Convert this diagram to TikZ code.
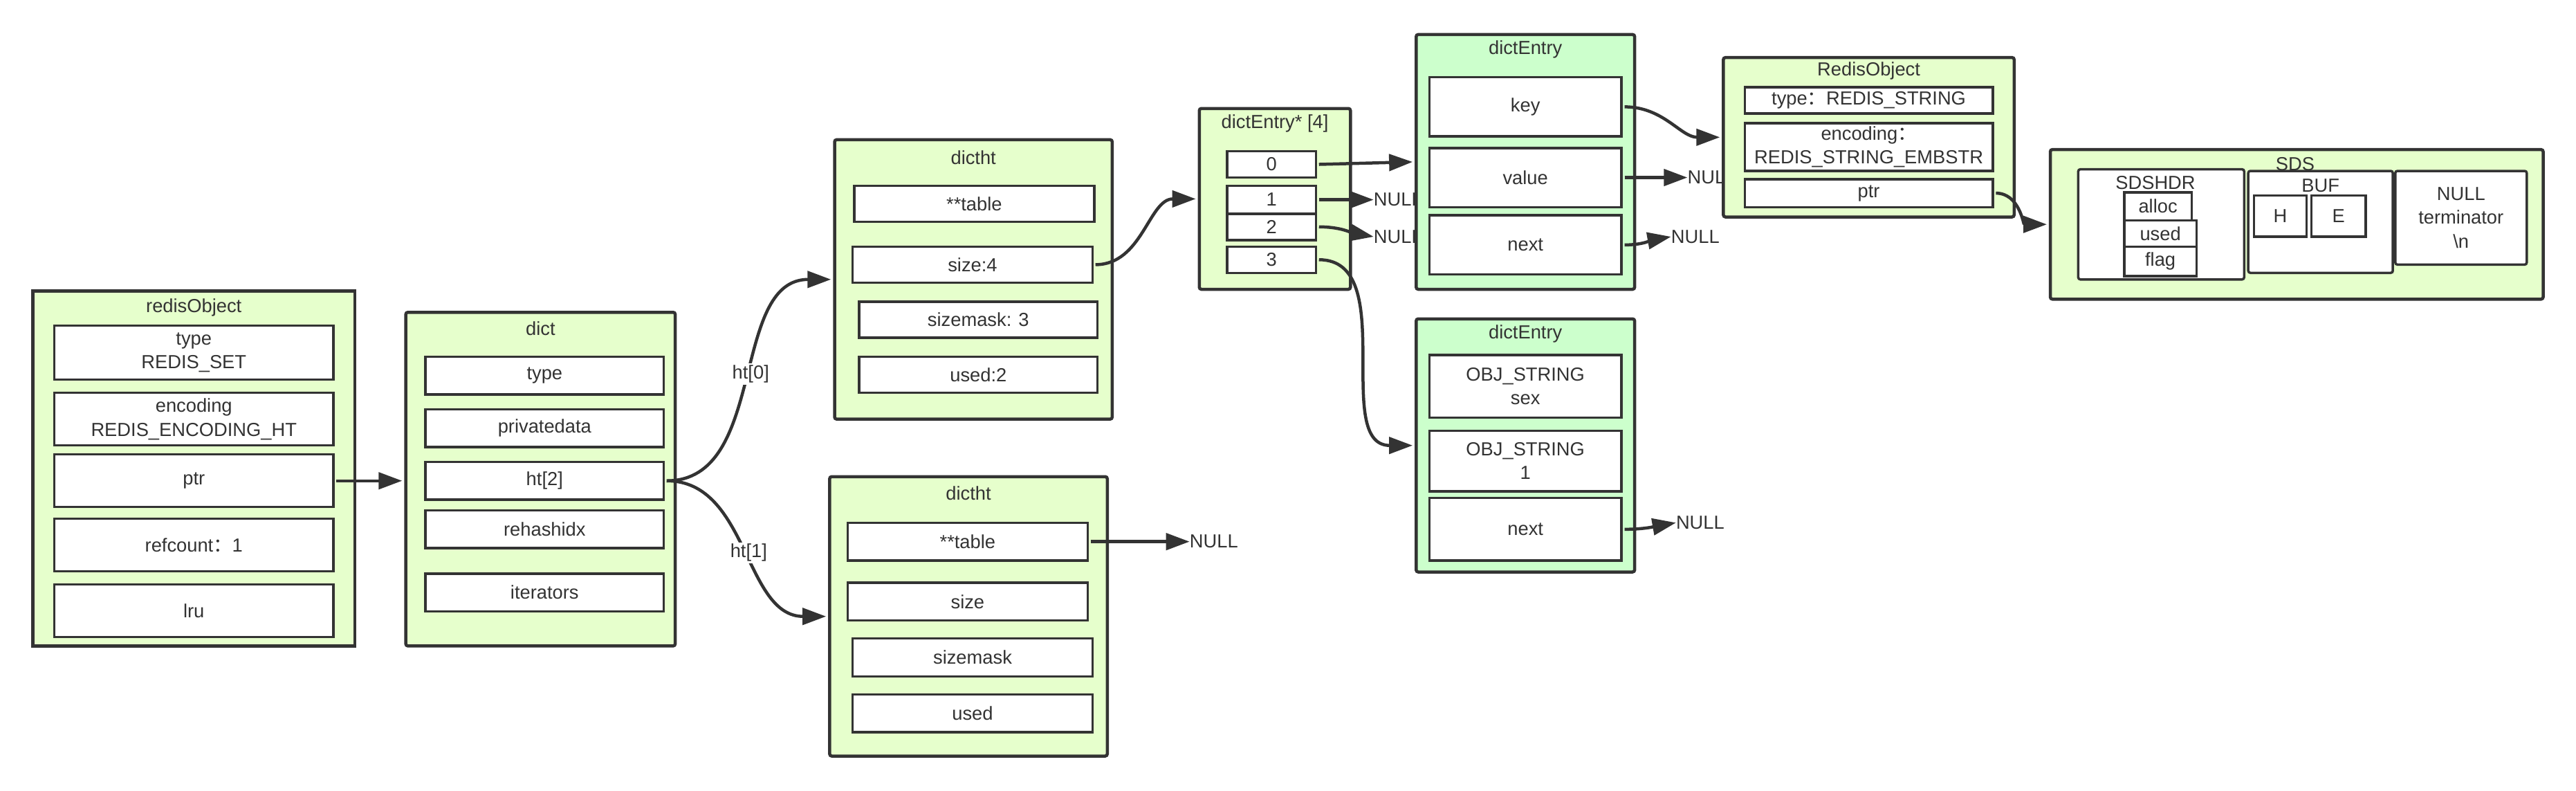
\documentclass[tikz,border=0pt]{standalone}
\usepackage{fontspec}
\setmainfont{Liberation Sans}
\newfontfamily\cjk{Noto Sans CJK SC}
\usetikzlibrary{arrows.meta,positioning}
\definecolor{palegreen}{HTML}{E6FFCC}
\definecolor{mintgreen}{HTML}{CCFFCC}
\definecolor{ink}{HTML}{333333}

\begin{document}
\begin{tikzpicture}[x=1pt, y=-1pt, scale=2.375,
    every node/.style={transform shape, text=ink, font=\fontsize{11.5}{14.5}\selectfont},
    outerbox/.style={draw=ink, line width=4.5pt, fill=palegreen, rounded corners=3pt, inner sep=0pt},
    entrybox/.style={outerbox, fill=mintgreen},
    field/.style={draw=ink, line width=3.5pt, fill=white, inner sep=0pt, align=center},
    link/.style={draw=ink, line width=4.5pt, -{Triangle[length=34pt, width=24pt]}},
    nullnode/.style={anchor=west, inner sep=0pt},
    tag/.style={fill=white, inner sep=1pt}]

    \useasboundingbox (0,0) rectangle (1568,481);

    % NULL ends
    \node[nullnode] (null0) at (724,329.5) {NULL};
    \node[nullnode] (null1) at (836,121.5) {NULL};
    \node[nullnode] (null2) at (836,144) {NULL};
    \node[nullnode] (null3) at (1027,108) {NULL};
    \node[nullnode] (null4) at (1017,144) {NULL};
    \node[nullnode] (null5) at (1020,318) {NULL};

    % redisObject
    \node[outerbox, sharp corners, minimum width=196pt, minimum height=216pt] (robj) at (118,285) {};
    \node (robj-t) at (118,187) {redisObject};
    \node[field, minimum width=170pt, minimum height=33pt] (otype) at (118,214.5) {type\\REDIS\_SET};
    \node[field, minimum width=170pt, minimum height=32pt] (oenc) at (118,255) {encoding\\REDIS\_ENCODING\_HT};
    \node[field, minimum width=170pt, minimum height=32pt] (optr) at (118,292.5) {ptr};
    \node[field, minimum width=170pt, minimum height=32pt] (oref) at (118,331.5) {refcount{\cjk ：}1};
    \node[field, minimum width=170pt, minimum height=32pt] (olru) at (118,371.5) {lru};

    % dict
    \node[outerbox, minimum width=164pt, minimum height=203pt] (dict) at (329,291.5) {};
    \node (dict-t) at (329,200) {dict};
    \node[field, minimum width=145pt, minimum height=23pt] (dtype) at (331.5,228.5) {type};
    \node[field, minimum width=145pt, minimum height=23pt] (dpriv) at (331.5,260.5) {privatedata};
    \node[field, minimum width=145pt, minimum height=23pt] (dht) at (331.5,292.5) {ht[2]};
    \node[field, minimum width=145pt, minimum height=23pt] (drehash) at (331.5,322) {rehashidx};
    \node[field, minimum width=145pt, minimum height=23pt] (diter) at (331.5,360.5) {iterators};

    % dictht ht[0]
    \node[outerbox, minimum width=169pt, minimum height=170pt] (dictht0) at (592.5,170) {};
    \node (dictht0-t) at (592.5,96) {dictht};
    \node[field, minimum width=146pt, minimum height=22pt] (t0table) at (593,124) {**table};
    \node[field, minimum width=146pt, minimum height=22pt] (t0size) at (592,161) {size:4};
    \node[field, minimum width=145pt, minimum height=22pt] (t0mask) at (595.5,194.5) {sizemask: 3};
    \node[field, minimum width=145pt, minimum height=22pt] (t0used) at (595.5,228) {used:2};

    % dictht ht[1]
    \node[outerbox, minimum width=169pt, minimum height=170pt] (dictht1) at (589.5,375) {};
    \node (dictht1-t) at (589.5,300) {dictht};
    \node[field, minimum width=146pt, minimum height=23pt] (t1table) at (589,329.5) {**table};
    \node[field, minimum width=146pt, minimum height=23pt] (t1size) at (589,366) {size};
    \node[field, minimum width=146pt, minimum height=23pt] (t1mask) at (592,400) {sizemask};
    \node[field, minimum width=146pt, minimum height=23pt] (t1used) at (592,434) {used};

    % dictEntry* [4]
    \node[outerbox, minimum width=92pt, minimum height=110pt] (arr) at (776,121) {};
    \node (arr-t) at (776,75) {dictEntry* [4]};
    \node[field, minimum width=54pt, minimum height=16pt] (c0) at (774,100) {0};
    \node[field, minimum width=54pt, minimum height=17pt] (c1) at (774,121.5) {1};
    \node[field, minimum width=54pt, minimum height=16pt] (c2) at (774,138) {2};
    \node[field, minimum width=54pt, minimum height=16pt] (c3) at (774,158) {3};

    % dictEntry
    \node[entrybox, minimum width=133pt, minimum height=155pt] (de1) at (928.5,98.5) {};
    \node (de1-t) at (928.5,30) {dictEntry};
    \node[field, minimum width=117pt, minimum height=36pt] (ekey) at (928.5,65) {key};
    \node[field, minimum width=117pt, minimum height=36pt] (eval) at (928.5,108) {value};
    \node[field, minimum width=117pt, minimum height=36pt] (enext) at (928.5,149) {next};

    \node[entrybox, minimum width=133pt, minimum height=154pt] (de2) at (928.5,271) {};
    \node (de2-t) at (928.5,203) {dictEntry};
    \node[field, minimum width=117pt, minimum height=38pt] (fkey) at (928.5,235) {OBJ\_STRING\\sex};
    \node[field, minimum width=117pt, minimum height=37pt] (fval) at (928.5,280.5) {OBJ\_STRING\\1};
    \node[field, minimum width=117pt, minimum height=38pt] (fnext) at (928.5,322) {next};

    % RedisObject
    \node[outerbox, minimum width=177pt, minimum height=97pt] (sobj) at (1137.5,83.5) {};
    \node (sobj-t) at (1137.5,43) {RedisObject};
    \node[field, minimum width=151pt, minimum height=16pt] (stype) at (1137.5,61) {type{\cjk ：}REDIS\_STRING};
    \node[field, minimum width=151pt, minimum height=29pt] (senc) at (1137.5,89.5) {encoding{\cjk ：}\\REDIS\_STRING\_EMBSTR};
    \node[field, minimum width=151pt, minimum height=17pt] (sptr) at (1137.5,117.5) {ptr};

    % SDS
    \node[outerbox, minimum width=300pt, minimum height=91pt] (sds) at (1398,136.5) {};
    \node (sds-t) at (1397,100) {SDS};
    \node[field, rounded corners=3pt, minimum width=101pt, minimum height=67pt] (hdr) at (1315.5,136.5) {};
    \node (hdr-t) at (1312,111) {SDSHDR};
    \node[field, minimum width=41pt, minimum height=17pt] (halloc) at (1313.5,125.5) {alloc};
    \node[field, minimum width=44pt, minimum height=16pt] (hused) at (1315,142) {used};
    \node[field, minimum width=44pt, minimum height=18pt] (hflag) at (1315,159) {flag};
    \node[field, rounded corners=3pt, minimum width=88pt, minimum height=62pt] (buf) at (1412.5,135) {};
    \node (buf-t) at (1412.5,113) {BUF};
    \node[field, minimum width=32pt, minimum height=25pt] (bh) at (1388,131.5) {H};
    \node[field, minimum width=33pt, minimum height=25pt] (be) at (1423.5,131.5) {E};
    \node[field, rounded corners=3pt, minimum width=80pt, minimum height=57pt] (nterm) at (1498,132.5) {NULL\\terminator\\\textbackslash n};

    % pointers
    \draw[link] (optr.east) -- (optr.east -| dict.west);
    \draw[link] (dht.east) to[out=0, in=180] node[tag, pos=0.52] (ht0) {ht[0]} (dictht0.west);
    \draw[link] (dht.east) to[out=0, in=180] node[tag, pos=0.52] (ht1) {ht[1]} (dictht1.west);
    \draw[link] (t1table.east) -- (null0.west);
    \draw[link] (t0size.east) to[out=0, in=180] (arr.west);
    \draw[link] (c0.east) -- (de1.west);
    \draw[link] (c1.east) -- (null1.west);
    \draw[link] (c2.east) to[out=0, in=170] (null2.west);
    \draw[link] (c3.east) to[out=0, in=180] (de2.west);
    \draw[link] (ekey.east) to[out=0, in=180] (sobj.west);
    \draw[link] (eval.east) -- (null3.west);
    \draw[link] (enext.east) to[out=0, in=190] (null4.west);
    \draw[link] (fnext.east) to[out=0, in=190] (null5.west);
    \draw[link] (sptr.east) to[out=0, in=180] (sds.west);

\end{tikzpicture}
\end{document}
